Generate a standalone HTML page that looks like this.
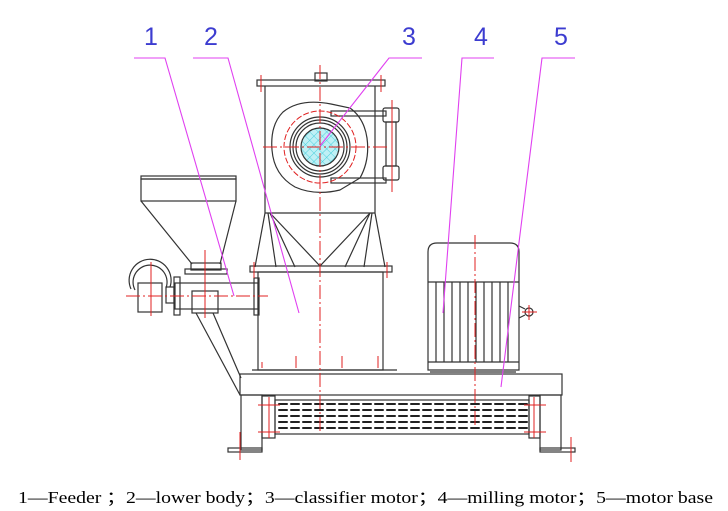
<!DOCTYPE html>
<html><head><meta charset="utf-8"><style>
html,body{margin:0;padding:0;background:#fff;width:728px;height:511px;overflow:hidden}
svg{display:block}
</style></head><body>
<svg width="728" height="511" viewBox="0 0 728 511" xmlns="http://www.w3.org/2000/svg">
<defs>
<pattern id="hx" width="6" height="6" patternUnits="userSpaceOnUse" patternTransform="rotate(45)">
<rect width="6" height="6" fill="#bff0f5"/><path d="M0 0H6M0 0V6" stroke="#30c8d8" stroke-width="0.8"/>
</pattern>
</defs>
<g font-family="Liberation Sans, sans-serif" font-size="25" fill="#3c3cd0">
<text x="144" y="45">1</text><text x="204" y="45">2</text><text x="402" y="45">3</text><text x="474" y="45">4</text><text x="554" y="45">5</text>
</g>
<g stroke="#333" stroke-width="1.2" fill="none">
<rect x="315" y="73" width="12" height="8"/>
<rect x="257" y="80" width="128" height="6"/>
<line x1="265" y1="86" x2="265" y2="213"/><line x1="375" y1="86" x2="375" y2="213"/>
<path d="M331 104 Q300 98 283 112 Q270 125 272 150 Q274 175 295 187 Q315 196 340 190 L360 178 Q370 160 367 138 Q364 118 350 108 Z"/>
<circle cx="320" cy="147" r="30"/><circle cx="320" cy="147" r="27"/><circle cx="320" cy="147" r="24"/>
<circle cx="320" cy="147" r="19" fill="url(#hx)"/>
<rect x="331" y="111" width="55" height="5"/><rect x="331" y="178" width="55" height="5"/>
<rect x="383" y="108" width="16" height="14" rx="2"/><rect x="383" y="166" width="16" height="14" rx="2"/>
<rect x="386" y="122" width="10" height="44"/>
<line x1="265" y1="213" x2="375" y2="213"/>
<path d="M265 213 L255 267 M375 213 L385 267 M268 213 L276 267 M372 213 L364 267 M270 213 L295 267 M370 213 L345 267 M270 213 L320 266 L370 213"/>
<rect x="250" y="266" width="142" height="6"/>
<rect x="258" y="272" width="125" height="98"/>
<line x1="252" y1="370" x2="397" y2="370"/>
<path d="M428 370 V252 Q428 243 437 243 H510 Q519 243 519 252 V370 Z"/>
<line x1="428" y1="282" x2="519" y2="282"/><line x1="428" y1="362" x2="519" y2="362"/>
<path d="M436 282V362M444 282V362M452 282V362M460 282V362M468 282V362M476 282V362M484 282V362M492 282V362M500 282V362M508 282V362"/>
<line x1="430" y1="372" x2="516" y2="372"/>
<circle cx="529" cy="312" r="4"/><path d="M519 306 L525 309 M519 318 L525 315"/>
<rect x="240" y="374" width="322" height="21"/>
<rect x="241" y="395" width="21" height="55"/><rect x="540" y="395" width="21" height="55"/>
<rect x="228" y="448" width="34" height="4"/><rect x="540" y="448" width="35" height="4"/>
<rect x="262" y="396" width="13" height="42"/><rect x="529" y="396" width="11" height="42"/>
<rect x="275" y="400" width="254" height="34"/>
<rect x="141" y="176" width="95" height="3"/>
<rect x="141" y="179" width="95" height="22"/>
<path d="M141 201 L192 264 M236 201 L220 264"/>
<rect x="191" y="263" width="30" height="7"/>
<rect x="185" y="269" width="42" height="5"/>
<rect x="175" y="283" width="83" height="26"/>
<rect x="192" y="291" width="26" height="22"/>
<rect x="174" y="277" width="6" height="38"/>
<rect x="254" y="278" width="5" height="37"/>
<rect x="166" y="287" width="8" height="16"/>
<path d="M131 289 A21 21 0 1 1 170 287 M135 290 A17 17 0 1 1 166 288"/>
<rect x="138" y="283" width="24" height="29"/>
<path d="M196 313 L240 395 M213 313 L241 378"/>
</g>
<g fill="none" stroke="#222" stroke-width="2" stroke-dasharray="8 4" stroke-linecap="round">
<line x1="279" y1="404" x2="528" y2="404"/><line x1="279" y1="410" x2="528" y2="410"/><line x1="279" y1="416" x2="528" y2="416"/><line x1="279" y1="422" x2="528" y2="422"/><line x1="279" y1="428" x2="528" y2="428"/>
</g>
<g stroke="#e02020" stroke-width="1" fill="none">
<line x1="320" y1="65" x2="320" y2="432" stroke-dasharray="14 3 2 3"/>
<line x1="263" y1="147" x2="388" y2="147" stroke-dasharray="14 3 2 3"/>
<circle cx="320" cy="147" r="36" stroke-dasharray="6 2"/>
<line x1="475" y1="235" x2="475" y2="425" stroke-dasharray="14 3 2 3"/>
<line x1="392" y1="100" x2="392" y2="192"/>
<line x1="261" y1="75" x2="261" y2="92"/><line x1="381" y1="75" x2="381" y2="92"/>
<line x1="254" y1="262" x2="254" y2="278"/><line x1="387" y1="262" x2="387" y2="278"/>
<line x1="205" y1="250" x2="205" y2="318"/>
<line x1="126" y1="296" x2="268" y2="296" stroke-dasharray="14 3 2 3"/>
<line x1="151" y1="262" x2="151" y2="316"/>
<line x1="240" y1="432" x2="240" y2="460"/><line x1="571" y1="437" x2="571" y2="462"/>
<line x1="269" y1="397" x2="269" y2="438"/><line x1="534" y1="397" x2="534" y2="438"/>
<line x1="258" y1="405" x2="280" y2="405"/><line x1="258" y1="432" x2="280" y2="432"/>
<line x1="524" y1="405" x2="546" y2="405"/><line x1="524" y1="432" x2="546" y2="432"/>
<line x1="522" y1="312" x2="537" y2="312"/><line x1="529" y1="305" x2="529" y2="320"/>
<line x1="262" y1="362" x2="262" y2="368"/><line x1="296" y1="356" x2="296" y2="368"/><line x1="342" y1="356" x2="342" y2="368"/><line x1="378" y1="356" x2="378" y2="368"/>
</g>
<g stroke="#e040f0" stroke-width="1.1" fill="none">
<path d="M134 58 H165 L234 296"/>
<path d="M193 58 H228 L299 313"/>
<path d="M422 58 H389 L320 146"/>
<path d="M494 58 H462 L443 313"/>
<path d="M575 58 H542 L501 387"/>
</g>
<text x="18" y="503" font-family="Liberation Serif, serif" font-size="16.5" fill="#000" textLength="695" lengthAdjust="spacingAndGlyphs">1—Feeder ；2—lower body；3—classifier motor；4—milling motor；5—motor base</text>
</svg>
</body></html>
